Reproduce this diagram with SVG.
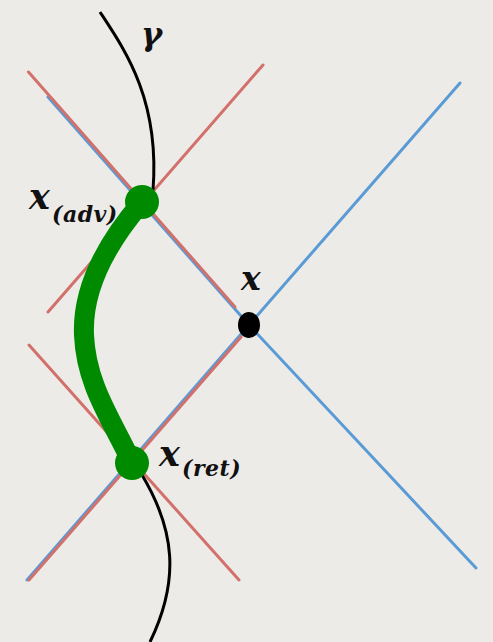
<svg xmlns="http://www.w3.org/2000/svg" width="493" height="642" viewBox="0 0 493 642">
<style>
.blue{stroke:#5b9bd5;stroke-width:3;fill:none;stroke-linecap:round}
.red{stroke:#d2706b;stroke-width:3;fill:none;stroke-linecap:round}
.wl{stroke:#000;stroke-width:3;fill:none}
.lbl{font-family:"DejaVu Serif",serif;font-style:italic;font-weight:bold;fill:#111}
.sub{font-size:22px;letter-spacing:0.5px}
</style>
<rect width="493" height="642" fill="#edebe7"/>
<g id="connectors">
<g id="x-cone">
<line class="blue" x1="249" y1="325" x2="48" y2="97"/>
<line class="blue" x1="249" y1="325" x2="460" y2="83"/>
<line class="blue" x1="249" y1="325" x2="476" y2="568"/>
<line class="blue" x1="249" y1="325" x2="27" y2="580"/>
</g>
<g id="adv-cone">
<line class="red" x1="28.5" y1="72" x2="235" y2="307"/>
<line class="red" x1="263" y1="65" x2="48" y2="312"/>
</g>
<g id="ret-cone">
<line class="red" x1="29" y1="345" x2="239" y2="580"/>
<line class="red" x1="241" y1="337" x2="29" y2="580"/>
</g>
<path id="gamma-top" class="wl" d="M100,12 C125,50 160,100 153,190"/>
<path id="gamma-bottom" class="wl" d="M142,475 C175,530 180,580 150,642"/>
<path id="green-path" d="M142,202 C105,245 82,290 84,335 C86,385 112,420 132,463" stroke="#008a00" stroke-width="20" fill="none" stroke-linecap="round"/>
</g>
<g id="x-adv">
<circle cx="142" cy="202" r="17" fill="#008a00"/>
<text class="lbl" x="29" y="209" font-size="35">x</text>
<text class="lbl sub" x="52" y="222">(adv)</text>
</g>
<g id="x-ret">
<circle cx="132" cy="463" r="17" fill="#008a00"/>
<text class="lbl" x="159" y="466" font-size="35">x</text>
<text class="lbl sub" x="182" y="476">(ret)</text>
</g>
<g id="x-point">
<ellipse cx="249" cy="325" rx="11" ry="13" fill="#000"/>
<text class="lbl" x="241" y="290" font-size="33">x</text>
</g>
<g id="gamma">
<text class="lbl" x="141" y="45" font-size="32">γ</text>
</g>
</svg>
